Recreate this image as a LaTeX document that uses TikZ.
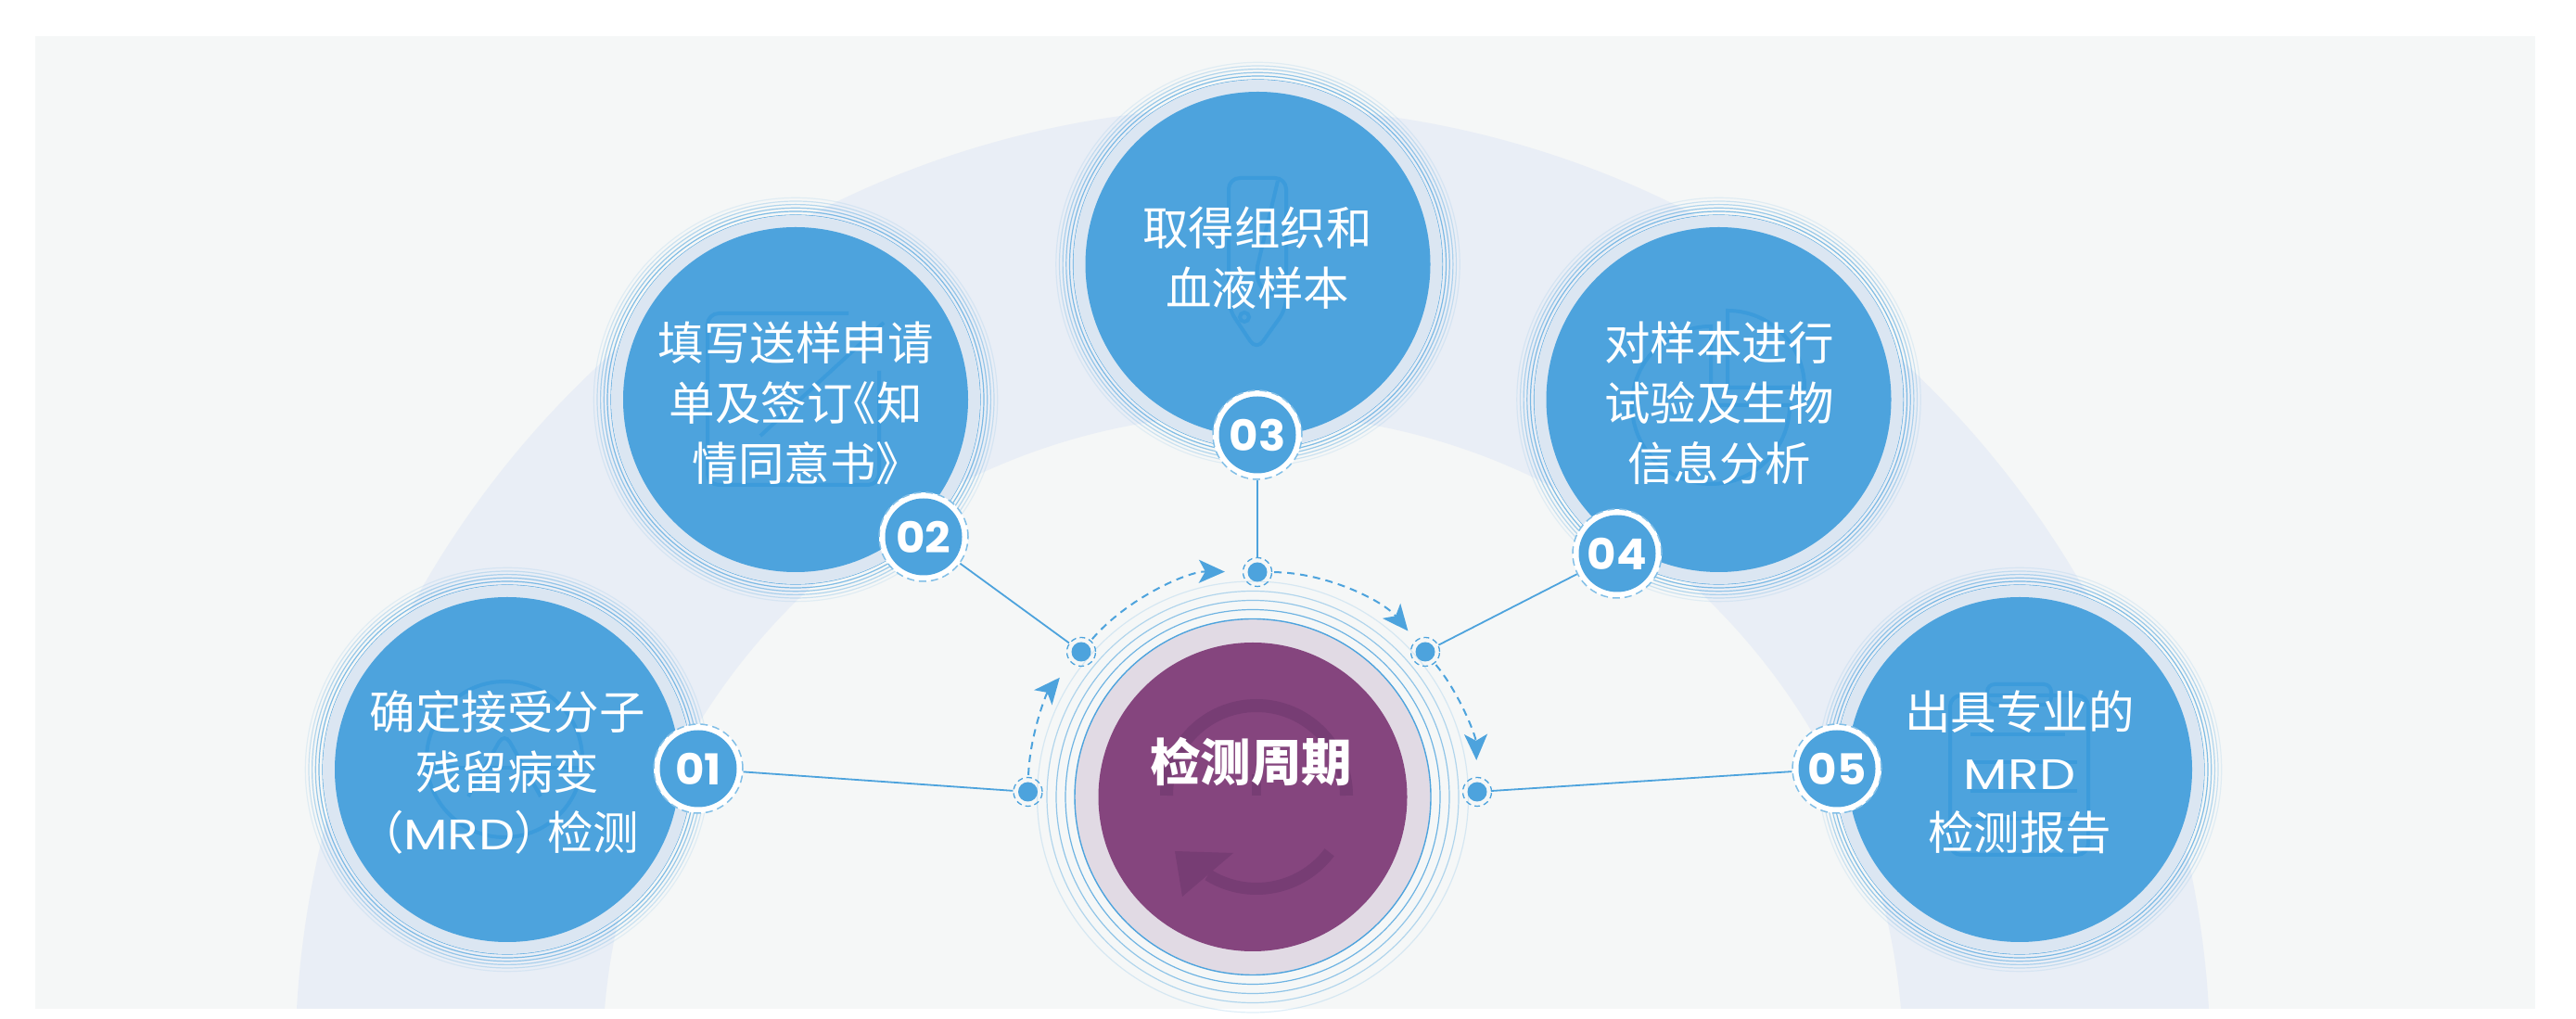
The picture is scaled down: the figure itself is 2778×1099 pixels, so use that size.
\documentclass[tikz,border=0pt]{standalone}
\usepackage{fontspec}
\setmainfont{Noto Sans CJK SC}
\newfontfamily\latinfont[FakeStretch=1.2]{Poppins}
\newfontfamily\numfont[FakeStretch=1.05]{Poppins}
\usepackage{xcolor}
\usetikzlibrary{arrows.meta}
\definecolor{panelgray}{HTML}{F5F7F7}
\definecolor{bandblue}{HTML}{E9EEF6}
\definecolor{haloblue}{HTML}{DBE6F2}
\definecolor{stepblue}{HTML}{4DA3DD}
\definecolor{ghostblue}{HTML}{3C9BDB}
\definecolor{halopurple}{HTML}{E1DAE4}
\definecolor{cyclepurple}{HTML}{85457E}
\definecolor{ghostpurple}{HTML}{773D74}

\begin{document}
\begin{tikzpicture}[
  x=1pt,y=1pt,
  halo/.style={circle,fill=haloblue,inner sep=0pt,minimum size=398pt},
  disc/.style={circle,fill=stepblue,inner sep=0pt,minimum size=372pt},
  ringline/.style={draw=stepblue,line width=1.2pt},
  lbl/.style={text=white,align=center,font=\fontsize{49.5}{65}\selectfont},
  badgering/.style={circle,fill=white,draw=stepblue!70,dash pattern=on 8pt off 5pt,line width=1.5pt,inner sep=0pt,minimum size=96pt},
  badge/.style={circle,fill=stepblue,inner sep=0pt,minimum size=83pt,text=white,font=\numfont\bfseries\fontsize{46}{46}\selectfont},
  dotring/.style={circle,draw=stepblue,dash pattern=on 6pt off 4pt,line width=1.3pt,inner sep=0pt,minimum size=31pt},
  dotcore/.style={circle,fill=stepblue,inner sep=0pt,minimum size=21pt},
  wire/.style={draw=stepblue,line width=1.8pt},
  arcarr/.style={draw=stepblue,line width=2pt,dash pattern=on 8pt off 6pt,-{Stealth[length=28pt,width=25pt,inset=7pt]}},
  ghost/.style={draw=ghostblue,line width=4pt,rounded corners=12pt}
]
\path[use as bounding box,fill=white] (0,0) rectangle (2778,1099);
\fill[panelgray] (38,11) rectangle (2734,1060);
\begin{scope}
\clip (38,11) rectangle (2734,1060);
\fill[bandblue,even odd rule] (1351,-49) circle (1032.7) (1351,-49) circle (701.5);
\end{scope}

% five step circles
\foreach \n/\x/\y in {1/547/269,2/858/668,3/1356.5/814,4/1853.5/668,5/2178/269}{
  \foreach \r/\o in {199/.9,203/.7,206.7/.55,210.4/.4,214/.25,217.7/.12}
    \draw[ringline,opacity=\o] (\x,\y) circle (\r);
  \node[halo] (halo\n) at (\x,\y) {};
  \node[disc] (disc\n) at (\x,\y) {};
}

% faint icons
\draw[ghost] (544,280) circle (84);
\draw[ghost] (505,240) -- (544,309) -- (583,240);
\draw[ghost] (462,271) -- (625,271);
\draw[ghost] (915,761) -- (763,761) -- (763,576) -- (948,576) -- (948,699);
\draw[ghost,rounded corners=0pt] (953,751) -- (820,629);
\draw[ghost] (1325,907) -- (1387,907) -- (1387,766) -- (1355,721) -- (1325,766) -- cycle;
\draw[ghost,rounded corners=0pt] (1378,904) -- (1357,816) .. controls (1350,790) and (1370,775) .. (1385,785);
\draw[ghost] (1342,757) circle (5);
\draw[ghost,rounded corners=0pt] (1863,764) arc (90:0:83) -- (1863,681) -- cycle;
\draw[ghost,rounded corners=0pt] (1845,747) arc (90:360:85) -- (1845,662) -- cycle;
\draw[ghost] (2103,349) rectangle (2252,177);
\draw[ghost,rounded corners=8pt] (2143,361) rectangle (2212,339);
\foreach \y/\a/\b in {307/2125/2227,277/2125/2240,246/2125/2240,216/2125/2240}
  \draw[draw=ghostblue,line width=4pt] (\a,\y) -- (\b,\y);

% centre circle
\foreach \r/\o in {202/.8,212/.6,222/.4,232.5/.18}
  \draw[ringline,opacity=\o] (1351,239.5) circle (\r);
\node[circle,fill=halopurple,draw=stepblue,line width=1.4pt,inner sep=0pt,minimum size=384pt] (cyclehalo) at (1351,239.5) {};
\node[circle,fill=cyclepurple,inner sep=0pt,minimum size=333pt] (cycledisc) at (1351,239.5) {};
\draw[ghostpurple,line width=14pt] (1258,241) arc (180:0:97);
\fill[ghostpurple] (1350,241) rectangle (1360,264);
\draw[ghostpurple,line width=13pt] (1355,239)++(-37:98.5) arc (-37:-122:98.5);
\fill[ghostpurple] (1267,181) -- (1330,179) -- (1275,132) -- cycle;

% labels
\node[lbl] (lbl1) at (547,266) {确定接受分子\\残留病变\\\kern-18pt（\kern-1pt{\latinfont\fontsize{46}{65}\selectfont MRD}\kern-1pt）\kern-14pt 检测};
\node[lbl] (lbl2) at (858,664) {填写送样申请\\单及签订\kern-24pt《知\\情同意书》\kern-25pt\ };
\node[lbl] (lbl3) at (1356,821) {取得组织和\\血液样本};
\node[lbl] (lbl4) at (1854,664) {对样本进行\\试验及生物\\信息分析};
\node[lbl] (lbl5) at (2178,266) {出具专业的\\{\latinfont\fontsize{46}{65}\selectfont MRD}\\检测报告};
\node[text=white,font=\bfseries\fontsize{54.5}{60}\selectfont] (lblcycle) at (1349,277) {检测周期};

% badges and dots
\foreach \n/\x/\y/\t in {1/753/270/01,2/996/520/02,3/1356/630/03,4/1744/502/04,5/1981/270/05}{
  \node[badgering] (ring\n) at (\x,\y) {};
  \node[badge] (badge\n) at (ring\n) {\t};
}
\foreach \n/\x/\y in {1/1108.5/245,2/1166/396,3/1356/482,4/1537/396,5/1593/245}{
  \node[dotring] (dot\n) at (\x,\y) {};
  \node[dotcore] (core\n) at (dot\n) {};
  \draw[wire] (ring\n) -- (dot\n);
}

\draw[arcarr,shorten >=20pt,shorten <=2pt] (dot1) to[bend left=19,looseness=.85] (dot2);
\draw[arcarr,shorten >=19pt,shorten <=2pt] (dot2) to[bend left=25,looseness=.85] (dot3);
\draw[arcarr,shorten >=13pt,shorten <=2pt] (dot3) to[bend left=25,looseness=.85] (dot4);
\draw[arcarr,shorten >=18pt,shorten <=2pt] (dot4) to[bend left=19,looseness=.85] (dot5);
\end{tikzpicture}
\end{document}
